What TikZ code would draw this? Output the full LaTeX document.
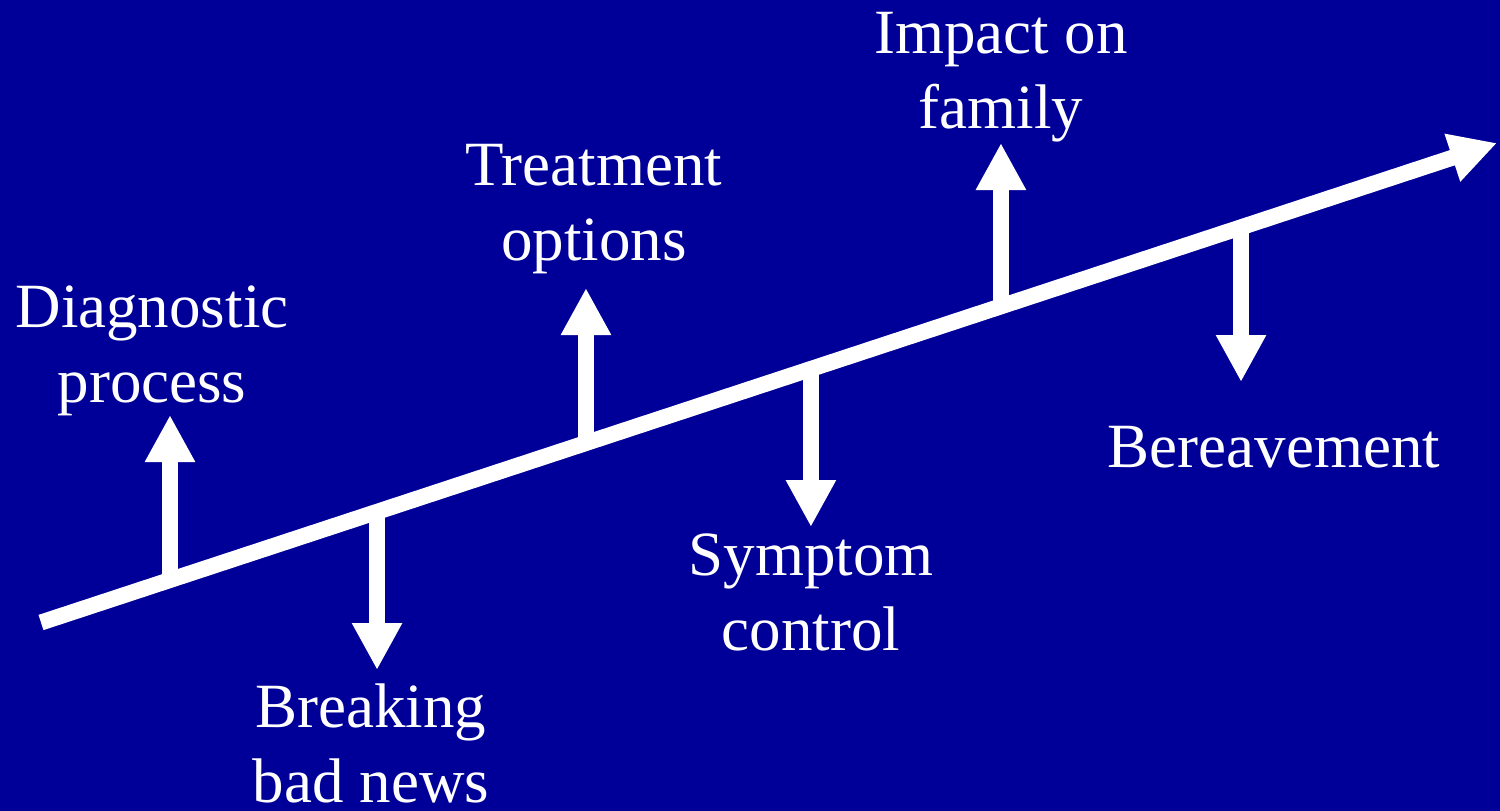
\documentclass[tikz,border=0pt]{standalone}
\usepackage{fontspec}
\setmainfont{Liberation Serif}
\usetikzlibrary{arrows.meta,calc}
\definecolor{bgblue}{RGB}{0,0,153}
\tikzset{
  mainline/.style={draw=white,line width=16pt,-{Triangle[length=47pt,width=47pt]}},
  vline/.style={draw=white,line width=16pt,-{Triangle[length=47pt,width=47pt]}},
  lbl/.style={text=white,font=\fontsize{63}{75}\selectfont,align=center,anchor=base,inner sep=0pt}
}
\begin{document}
\begin{tikzpicture}[x=1pt,y=-1pt]
\fill[bgblue] (0,0) rectangle (1500,811);
\useasboundingbox (0,0) rectangle (1500,811);
\coordinate (s) at (41,622.5);
\coordinate (e) at (1497,143);
\path (s) -- (e)
  coordinate[pos=0.0886] (p1)
  coordinate[pos=0.2308] (p2)
  coordinate[pos=0.3743] (p3)
  coordinate[pos=0.5288] (p4)
  coordinate[pos=0.6593] (p5)
  coordinate[pos=0.8242] (p6);
\coordinate (t1) at (170,415);
\coordinate (t2) at (377,670);
\coordinate (t3) at (586,288);
\coordinate (t4) at (811,527);
\coordinate (t5) at (1001,143);
\coordinate (t6) at (1241,382);
\draw[mainline] (s) -- (e);
\draw[vline] (p1) -- (p1 |- t1);
\draw[vline] (p2) -- (p2 |- t2);
\draw[vline] (p3) -- (p3 |- t3);
\draw[vline] (p4) -- (p4 |- t4);
\draw[vline] (p5) -- (p5 |- t5);
\draw[vline] (p6) -- (p6 |- t6);
% anchor=base refers to the last line's baseline
\node[lbl] (diag) at (152,402) {Diagnostic\\process};
\node[lbl] (brk) at (371,802) {Breaking\\bad news};
\node[lbl] (treat) at (594,260) {Treatment\\options};
\node[lbl] (symp) at (811,650) {Symptom\\control};
\node[lbl] (imp) at (1001,128) {Impact on\\family};
\node[lbl] (ber) at (1274,467) {Bereavement};
\end{tikzpicture}
\end{document}
